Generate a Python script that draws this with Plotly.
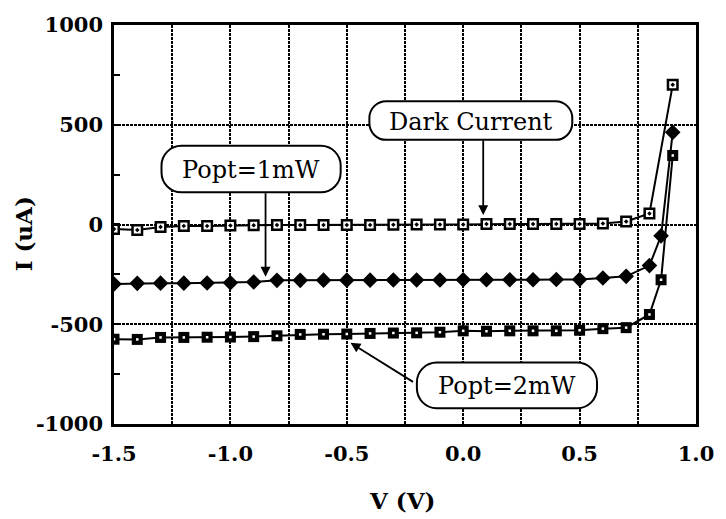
import plotly.graph_objects as go

# Bias voltage (V) for each measured curve
v_dark = [-1.5, -1.4, -1.3, -1.2, -1.1, -1.0, -0.9, -0.8, -0.7, -0.6, -0.5, -0.4, -0.3,
          -0.2, -0.1, 0.0, 0.1, 0.2, 0.3, 0.4, 0.5, 0.6, 0.7, 0.8, 0.9]
v_light = [-1.5, -1.4, -1.3, -1.2, -1.1, -1.0, -0.9, -0.8, -0.7, -0.6, -0.5, -0.4, -0.3,
           -0.2, -0.1, 0.0, 0.1, 0.2, 0.3, 0.4, 0.5, 0.6, 0.7, 0.8, 0.85, 0.9]

# Photodiode current (uA)
i_dark = [-23, -28, -12, -7, -7, -5, -4, -3, -3, -2, -2, -2, -1,
          0, 0, 0, 2, 2, 2, 3, 3, 5, 15, 55, 700]
i_1mw = [-298, -295, -294, -294, -293, -292, -288, -280, -280, -279, -279, -279, -278,
         -278, -278, -277, -277, -277, -277, -276, -276, -268, -260, -206, -57, 462]
i_2mw = [-575, -576, -566, -566, -565, -564, -562, -558, -551, -550, -549, -546, -544,
         -543, -540, -533, -535, -533, -533, -533, -530, -522, -517, -451, -277, 346]

x_ticks = [-1.5, -1.0, -0.5, 0.0, 0.5, 1.0]
x_ticktext = ["-1.5", "-1.0", "-0.5", "0.0", "0.5", "1.0"]
x_minor = [-1.25, -0.75, -0.25, 0.25, 0.75]
y_ticks = [-1000, -500, 0, 500, 1000]
y_ticktext = ["-1000", "-500", "0", "500", "1000"]
y_minor = [-750, -250, 250, 750]

W, H = 726, 519
L, R, T, B = 114, 24, 21, 95
PW, PH = W - L - R, H - T - B

SERIF = "DejaVu Serif"


def to_paper(px, py):
    return (px - L) / PW, (H - B - py) / PH


def pill(x0, y0, x1, y1, r):
    """Rounded-rectangle SVG path (paper coords) from pixel corners."""
    k = 0.5523 * r

    def P(x, y):
        a, b = to_paper(x, y)
        return f"{a:.5f},{b:.5f}"

    d = f"M{P(x0 + r, y0)} L{P(x1 - r, y0)} "
    d += f"C{P(x1 - r + k, y0)} {P(x1, y0 + r - k)} {P(x1, y0 + r)} "
    d += f"L{P(x1, y1 - r)} "
    d += f"C{P(x1, y1 - r + k)} {P(x1 - r + k, y1)} {P(x1 - r, y1)} "
    d += f"L{P(x0 + r, y1)} "
    d += f"C{P(x0 + r - k, y1)} {P(x0, y1 - r + k)} {P(x0, y1 - r)} "
    d += f"L{P(x0, y0 + r)} "
    d += f"C{P(x0, y0 + r - k)} {P(x0 + r - k, y0)} {P(x0 + r, y0)} Z"
    return d


fig = go.Figure()

line_style = dict(color="black", width=2)

fig.add_trace(go.Scatter(
    x=v_light, y=i_2mw, mode="lines+markers", line=line_style,
    marker=dict(symbol="square", size=11, color="black"), hoverinfo="skip"))
fig.add_trace(go.Scatter(
    x=v_light, y=i_2mw, mode="markers",
    marker=dict(symbol="square", size=2.5, color="white"), hoverinfo="skip"))
fig.add_trace(go.Scatter(
    x=v_light, y=i_1mw, mode="lines+markers", line=line_style,
    marker=dict(symbol="diamond", size=12, color="black"), hoverinfo="skip"))
fig.add_trace(go.Scatter(
    x=v_dark, y=i_dark, mode="lines+markers", line=line_style,
    marker=dict(symbol="square-dot", size=9.5, color="white",
                line=dict(color="black", width=2.5)), hoverinfo="skip"))

grid_kw = dict(showgrid=True, gridcolor="black", gridwidth=1.6, griddash="3px,1px")

fig.update_xaxes(
    range=[-1.5, 1.0], tickvals=x_ticks, ticktext=x_ticktext, ticks="",
    showline=True, mirror=True, linecolor="black", linewidth=2.5, zeroline=False,
    tickfont=dict(family=SERIF, size=21, color="black", weight="bold"),
    ticklabelstandoff=9,
    minor=dict(tickvals=x_minor, ticks="", **grid_kw),
    **grid_kw)
fig.update_yaxes(
    range=[-1000, 1000], tickvals=y_ticks, ticktext=y_ticktext,
    ticks="inside", ticklen=6, tickwidth=2, tickcolor="black",
    showline=True, mirror=True, linecolor="black", linewidth=2.5, zeroline=False,
    tickfont=dict(family=SERIF, size=21, color="black", weight="bold"),
    ticklabelstandoff=4,
    minor=dict(tickvals=y_minor, ticks="inside", ticklen=6, tickwidth=2,
               tickcolor="black", showgrid=False),
    **grid_kw)

shapes = []
annotations = []

# Callout labels: pixel box (x0, y0, x1, y1, radius) and text
callouts = [
    ("Dark Current", (372, 98, 577, 137, 17)),
    ("Popt=1mW", (162, 143, 343, 190, 20)),
    ("Popt=2mW", (420, 362, 602, 408, 20)),
]
for text, (x0, y0, x1, y1, r) in callouts:
    shapes.append(dict(type="path", xref="paper", yref="paper", layer="above",
                       path=pill(x0, y0, x1, y1, r), fillcolor="white",
                       line=dict(color="black", width=2)))
    cx, cy = to_paper((x0 + x1) / 2, (y0 + y1) / 2 + 1)
    annotations.append(dict(text=text, xref="paper", yref="paper", x=cx, y=cy,
                            xanchor="center", yanchor="middle", showarrow=False,
                            font=dict(family=SERIF, size=24, color="black")))

# Pointer arrows (tip in data coords, tail offset in pixels)
arrows = [
    (0.086, 47, 0, -76),
    (-0.849, -262, 0, -85),
    (-0.484, -593, 64, 40),
]
for x, y, ax, ay in arrows:
    annotations.append(dict(x=x, y=y, xref="x", yref="y", ax=ax, ay=ay, text="",
                            showarrow=True, arrowhead=2, arrowsize=1.1,
                            arrowwidth=1.8, arrowcolor="black", standoff=0))

# Axis titles
tx, ty = to_paper(405, 501)
annotations.append(dict(text="V (V)", xref="paper", yref="paper", x=tx, y=ty,
                        xanchor="center", yanchor="middle", showarrow=False,
                        font=dict(family=SERIF, size=23, color="black", weight="bold")))
tx, ty = to_paper(22.5, 232)
annotations.append(dict(text="I (uA)", xref="paper", yref="paper", x=tx, y=ty,
                        xanchor="center", yanchor="middle", showarrow=False,
                        textangle=-90,
                        font=dict(family=SERIF, size=23, color="black", weight="bold")))

fig.update_layout(
    width=W, height=H, margin=dict(l=L, r=R, t=T, b=B),
    paper_bgcolor="white", plot_bgcolor="white", showlegend=False,
    shapes=shapes, annotations=annotations,
)

fig.write_html("out.html")
